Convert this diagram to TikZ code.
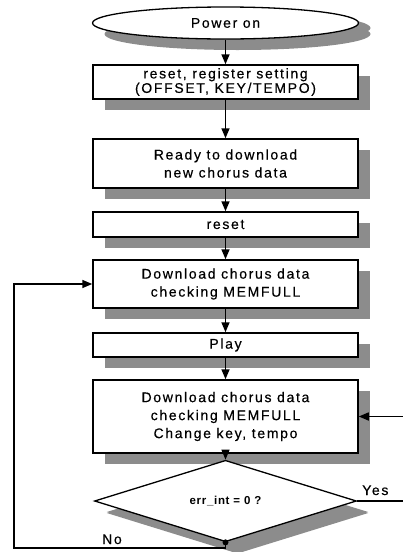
\documentclass[tikz,border=0pt]{standalone}
\usepackage{fontspec}
\newfontfamily\boxfont[LetterSpace=12,FakeBold=0.4]{Liberation Sans}
\newfontfamily\testfont[LetterSpace=6]{Liberation Sans}
\usetikzlibrary{shapes.geometric,arrows.meta,shadows}

\begin{document}
\begin{tikzpicture}[x=1pt,y=-1pt,
  shade12/.style={drop shadow={shadow xshift=12pt, shadow yshift=-11pt, fill=black!45, opacity=1}},
  flow/.style={draw, line width=1.5pt, fill=white, minimum width=265pt, inner sep=0pt,
    align=center, font=\boxfont\fontsize{14}{18}\selectfont, shade12},
  arr/.style={-{Triangle[length=10pt,width=8pt]}, line width=1.5pt},
  wire/.style={line width=1.4pt},
  lbl/.style={font=\boxfont\fontsize{14}{15}\selectfont, inner sep=0pt}
]
\useasboundingbox (0,0) rectangle (403,552);

% process steps
\node[flow, ellipse, line width=1.3pt, minimum width=266pt, minimum height=32pt,
  drop shadow={shadow xshift=12pt, shadow yshift=-5pt, fill=black!45, opacity=1}]
  (pwr) at (225.5,23) {Power on};
\node[flow, minimum height=34pt, font=\boxfont\fontsize{14}{14.5}\selectfont]
  (rst1) at (225.5,82) {reset, register setting\\(OFFSET, KEY/TEMPO)};
\node[flow, minimum height=49pt] (ready) at (225.5,163.5) {Ready to download\\new chorus data};
\node[flow, minimum height=25pt] (rst2) at (225.5,224.5) {reset};
\node[flow, minimum height=48pt] (dl1) at (225.5,284) {Download chorus data\\checking MEMFULL};
\node[flow, minimum height=24pt] (play) at (225.5,345) {Play};
\node[flow, minimum height=73pt] (dl2) at (225.5,416.5)
  {Download chorus data\\checking MEMFULL\\Change key, tempo};
\node[flow, diamond, line width=1.3pt, minimum width=262pt, minimum height=50pt,
  font=\testfont\bfseries\fontsize{11.5}{13}\selectfont,
  drop shadow={shadow xshift=12pt, shadow yshift=-12pt, fill=black!45, opacity=1}]
  (chk) at (225.5,501) {err\_int = 0 ?};

% free ends of the loose connectors
\coordinate (rin) at (403,416.5);
\coordinate (yesend) at (403,501);
\coordinate (lowleft) at (14,548);

% main flow
\draw[arr] (pwr) -- (rst1);
\draw[arr] (rst1) -- (ready);
\draw[arr] (ready) -- (rst2);
\draw[arr] (rst2) -- (dl1);
\draw[arr] (dl1) -- (play);
\draw[arr] (play) -- (dl2);
\draw[arr] (dl2) -- (chk);

% branches
\draw[arr] (rin) -- (dl2.east);
\draw[wire] (chk.east) -- (yesend);
\draw[arr] (chk.south) |- (lowleft) |- (dl1.west);
\fill (chk.south) circle (3pt);

\node[lbl, anchor=base west] (yes) at (362,495) {Yes};
\node[lbl, anchor=base west] (no) at (102,544) {No};
\end{tikzpicture}
\end{document}
